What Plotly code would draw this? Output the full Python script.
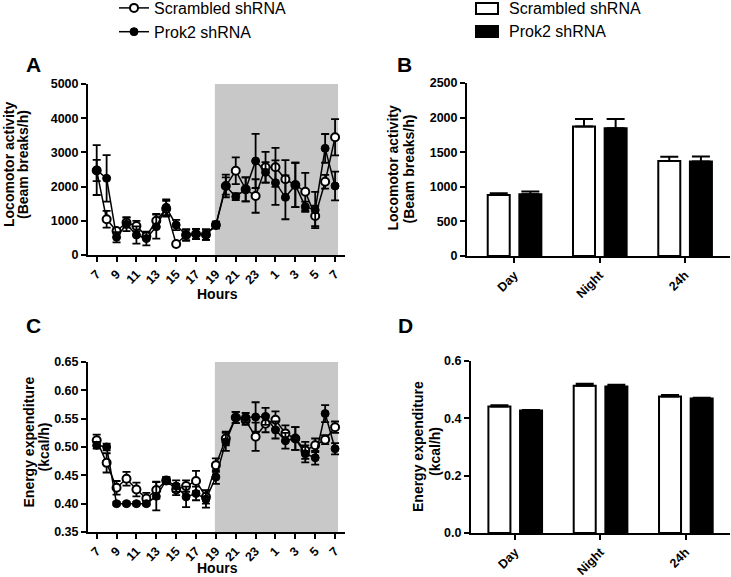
import plotly.graph_objects as go

# ---------------- data ----------------
hour_index = list(range(25))
hour_tickvals = list(range(0, 25, 2))
hour_ticktext = ['7', '9', '11', '13', '15', '17', '19', '21', '23', '1', '3', '5', '7']

loco_scr = [2470, 1043, 700, 950, 848, 550, 1000, 1350, 322, 585, 614, 595, 877,
            2018, 2465, 1920, 1725, 2564, 2564, 2213, 2047, 1851, 1140, 2143, 3441]
loco_scr_err = [310, 245, 80, 150, 150, 100, 200, 230, 60, 150, 150, 150, 100,
                250, 390, 350, 490, 450, 570, 560, 650, 550, 300, 200, 530]
loco_prok = [2485, 2242, 520, 900, 585, 480, 828, 1394, 877, 585, 614, 595, 877,
             2018, 1706, 1920, 2749, 2418, 2114, 1686, 2047, 1413, 1316, 3118, 2018]
loco_prok_err = [730, 680, 150, 200, 250, 200, 350, 230, 150, 170, 150, 150, 100,
                 330, 100, 350, 790, 300, 650, 640, 650, 150, 530, 420, 420]

ee_scr = [0.512, 0.472, 0.428, 0.444, 0.425, 0.409, 0.424, 0.441, 0.425, 0.431, 0.440, 0.412, 0.468,
          0.515, 0.552, 0.547, 0.518, 0.541, 0.548, 0.524, 0.515, 0.494, 0.503, 0.513, 0.535]
ee_scr_err = [0.010, 0.017, 0.012, 0.012, 0.012, 0.010, 0.015, 0.006, 0.010, 0.010, 0.018, 0.012, 0.012,
              0.012, 0.010, 0.008, 0.025, 0.015, 0.015, 0.014, 0.020, 0.015, 0.012, 0.008, 0.010]
ee_prok = [0.503, 0.500, 0.400, 0.400, 0.400, 0.400, 0.413, 0.441, 0.431, 0.412, 0.418, 0.408, 0.447,
           0.509, 0.552, 0.552, 0.553, 0.554, 0.530, 0.511, 0.515, 0.488, 0.481, 0.559, 0.497]
ee_prok_err = [0.006, 0.006, 0.003, 0.003, 0.003, 0.003, 0.025, 0.006, 0.010, 0.018, 0.012, 0.015, 0.012,
               0.016, 0.010, 0.008, 0.026, 0.015, 0.015, 0.014, 0.020, 0.015, 0.012, 0.015, 0.010]

periods = ['Day', 'Night', '24h']
period_pos = [0, 1, 2]
loco_bar_scr = [880, 1871, 1373]
loco_bar_scr_err = [25, 107, 63]
loco_bar_prok = [893, 1847, 1366]
loco_bar_prok_err = [40, 131, 72]
ee_bar_scr = [0.441, 0.514, 0.476]
ee_bar_scr_err = [0.005, 0.007, 0.005]
ee_bar_prok = [0.427, 0.511, 0.469]
ee_bar_prok_err = [0.002, 0.006, 0.003]

series_names = ['Scrambled shRNA', 'Prok2 shRNA']
night_start, night_end = 11.9, 24.3

# ---------------- figure ----------------
W, H = 731, 577
FONT = "Liberation Sans, Arial, sans-serif"
BLACK = "#000000"

def px_x(p):
    return p / W

def px_y(p):
    return 1 - p / H

fig = go.Figure()

err_line = dict(thickness=1.8, width=4, color=BLACK)

def add_lines(x, ys, errs, xa, ya, show):
    s, p = ys
    se, pe = errs
    fig.add_trace(go.Scatter(
        x=x, y=s, mode='lines+markers', name=series_names[0],
        line=dict(color=BLACK, width=1.5),
        marker=dict(symbol='circle', size=8, color='white', line=dict(color=BLACK, width=2)),
        error_y=dict(type='data', array=se, visible=True, **err_line),
        xaxis=xa, yaxis=ya, showlegend=show, legend='legend'))
    fig.add_trace(go.Scatter(
        x=x, y=p, mode='lines+markers', name=series_names[1],
        line=dict(color=BLACK, width=1.5),
        marker=dict(symbol='circle', size=8, color=BLACK, line=dict(color=BLACK, width=1)),
        error_y=dict(type='data', array=pe, visible=True, **err_line),
        xaxis=xa, yaxis=ya, showlegend=show, legend='legend'))

add_lines(hour_index, (loco_scr, loco_prok), (loco_scr_err, loco_prok_err), 'x', 'y', True)
add_lines(hour_index, (ee_scr, ee_prok), (ee_scr_err, ee_prok_err), 'x3', 'y3', False)

bar_w = 0.258
def add_bars(s, se, p, pe, xa, ya):
    fig.add_trace(go.Bar(
        x=period_pos, y=s, width=bar_w, offset=-0.312, name=series_names[0],
        marker=dict(color='white', line=dict(color=BLACK, width=2)),
        error_y=dict(type='data', symmetric=False, array=se, arrayminus=[0, 0, 0],
                     thickness=2, width=9, color=BLACK),
        xaxis=xa, yaxis=ya, showlegend=False))
    fig.add_trace(go.Bar(
        x=period_pos, y=p, width=bar_w, offset=0.059, name=series_names[1],
        marker=dict(color=BLACK, line=dict(color=BLACK, width=2)),
        error_y=dict(type='data', symmetric=False, array=pe, arrayminus=[0, 0, 0],
                     thickness=2, width=9, color=BLACK),
        xaxis=xa, yaxis=ya, showlegend=False))

add_bars(loco_bar_scr, loco_bar_scr_err, loco_bar_prok, loco_bar_prok_err, 'x2', 'y2')
add_bars(ee_bar_scr, ee_bar_scr_err, ee_bar_prok, ee_bar_prok_err, 'x4', 'y4')

tickfont = dict(family=FONT, size=12.5, color=BLACK, weight='bold')
axis_common = dict(showline=True, linecolor=BLACK, linewidth=2, ticks='outside',
                   ticklen=5, tickwidth=2, tickcolor=BLACK, showgrid=False,
                   zeroline=False, tickfont=tickfont, fixedrange=True, automargin=False)

fig.update_layout(
    width=W, height=H, margin=dict(l=0, r=0, t=0, b=0, autoexpand=False),
    paper_bgcolor='white', plot_bgcolor='rgba(0,0,0,0)',
    font=dict(family=FONT, color=BLACK),
    barmode='overlay',
    xaxis=dict(domain=[px_x(88), px_x(345)], range=[-0.876, 25.0], anchor='y',
               tickvals=hour_tickvals, ticktext=hour_ticktext, tickangle=-45, **axis_common),
    yaxis=dict(domain=[px_y(255), px_y(84)], range=[0, 5000], dtick=1000, anchor='x',
               **axis_common),
    xaxis3=dict(domain=[px_x(88), px_x(345)], range=[-0.876, 25.0], anchor='y3',
                tickvals=hour_tickvals, ticktext=hour_ticktext, tickangle=-45, **axis_common),
    yaxis3=dict(domain=[px_y(532), px_y(362)], range=[0.35, 0.65], dtick=0.05,
                tickformat='.2f', anchor='x3', **axis_common),
    xaxis2=dict(domain=[px_x(467), px_x(730)], range=[-0.555, 2.529], anchor='y2',
                tickvals=period_pos, ticktext=periods, tickangle=-45, **axis_common),
    yaxis2=dict(domain=[px_y(256), px_y(83)], range=[0, 2500], dtick=500, anchor='x2',
                **axis_common),
    xaxis4=dict(domain=[px_x(471), px_x(730)], range=[-0.516, 2.52], anchor='y4',
                tickvals=period_pos, ticktext=periods, tickangle=-45, **axis_common),
    yaxis4=dict(domain=[px_y(533), px_y(361)], range=[0, 0.6], dtick=0.2,
                tickformat='.1f', anchor='x4', **axis_common),
    legend=dict(x=px_x(114), y=px_y(-9), xanchor='left', yanchor='top',
                font=dict(family=FONT, size=16, color=BLACK), bgcolor='rgba(0,0,0,0)',
                tracegroupgap=0, itemwidth=30),
)

# night shading
for xa, ya in (('x', 'y'), ('x3', 'y3')):
    fig.add_shape(type='rect', xref=xa, yref=ya + ' domain', x0=night_start, x1=night_end,
                  y0=0, y1=1, fillcolor='#c8c8c8', line=dict(width=0), layer='below')

# bar legend keys (decoration)
fig.add_shape(type='rect', xref='paper', yref='paper', x0=px_x(476), x1=px_x(498),
              y0=px_y(14), y1=px_y(3), fillcolor='white', line=dict(color=BLACK, width=2))
fig.add_shape(type='rect', xref='paper', yref='paper', x0=px_x(476), x1=px_x(498),
              y0=px_y(37), y1=px_y(26), fillcolor=BLACK, line=dict(color=BLACK, width=2))

ann = []
def label(text, x, y, size, angle=0, bold=True, xanchor='center'):
    ann.append(dict(text=text, x=px_x(x), y=px_y(y), xref='paper', yref='paper',
                    showarrow=False, textangle=angle, xanchor=xanchor, yanchor='middle',
                    font=dict(family=FONT, size=size, color=BLACK,
                              weight='bold' if bold else 'normal')))

label(series_names[0], 507, 8.5, 16, bold=False, xanchor='left')
label(series_names[1], 507, 31.5, 16, bold=False, xanchor='left')
label('A', 33, 65, 21)
label('B', 404, 65, 21)
label('C', 33, 325, 21)
label('D', 405, 325, 21)
label('Locomotor activity', 9, 165, 14, -90)
label('(Beam breaks/h)', 23, 165, 14, -90)
label('Locomotor activity', 392, 168.5, 14, -90)
label('(Beam breaks/h)', 408.5, 169, 14, -90)
label('Energy expenditure', 28.5, 442, 14, -90)
label('(kcal/h)', 43.5, 447, 14, -90)
label('Energy expenditure', 418, 447, 14, -90)
label('(kcal/h)', 435, 452, 14, -90)
label('Hours', 217, 294, 14)
label('Hours', 217, 568, 14)
fig.update_layout(annotations=ann)

fig.write_html("out.html", config={'displayModeBar': False},
               post_script="document.body.style.margin='0';")
